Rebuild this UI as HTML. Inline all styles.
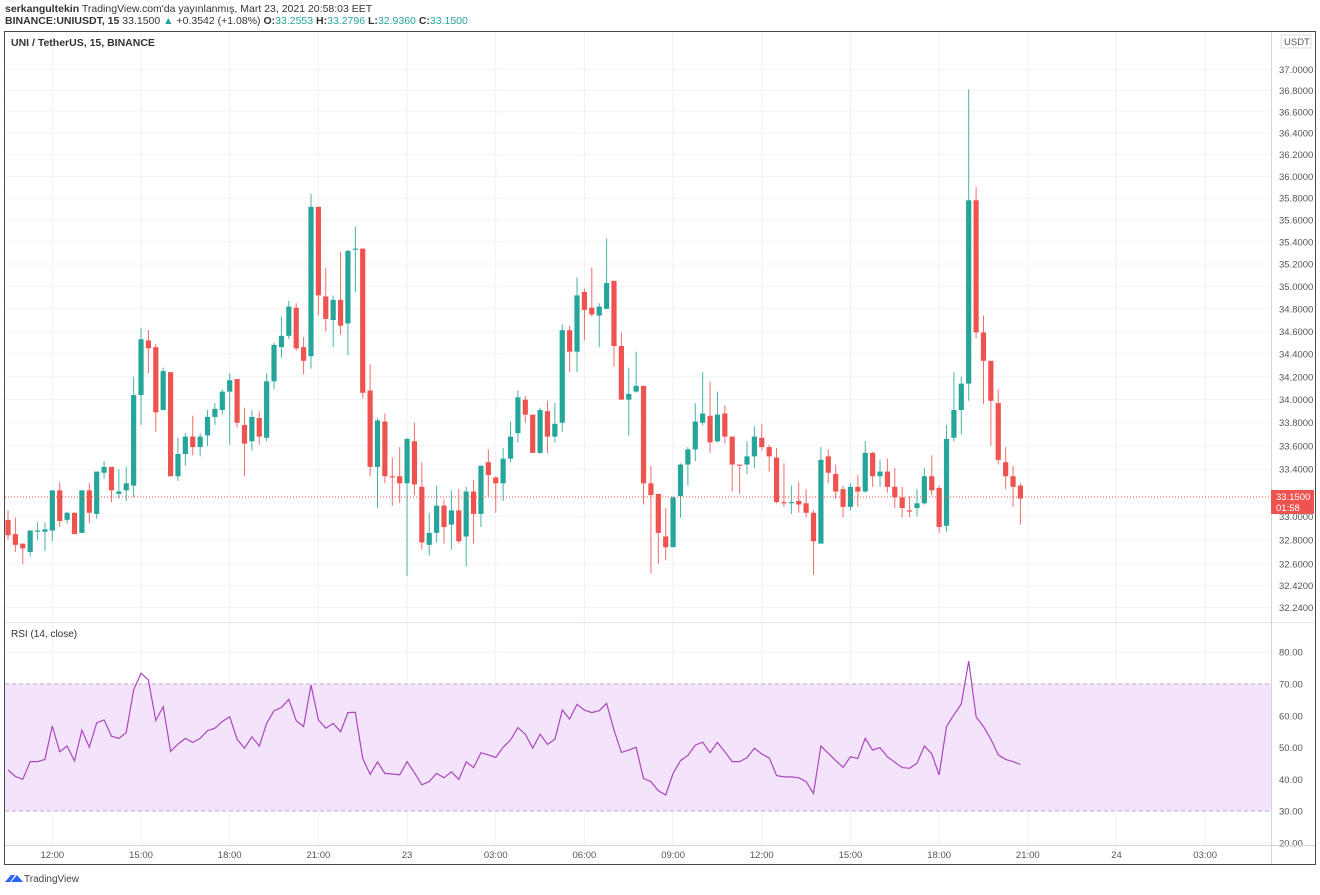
<!DOCTYPE html>
<html><head><meta charset="utf-8">
<style>
html,body{margin:0;padding:0;background:#fff;}
body{width:1320px;height:890px;overflow:hidden;font-family:"Liberation Sans",sans-serif;}
svg text{font-family:"Liberation Sans",sans-serif;}
</style></head>
<body>
<svg id="chart" width="1320" height="890" viewBox="0 0 1320 890" xmlns="http://www.w3.org/2000/svg">
  <text x="5" y="12" font-size="10.5" fill="#333"><tspan font-weight="bold">serkangultekin</tspan> TradingView.com'da yayınlanmış, Mart 23, 2021 20:58:03 EET</text>
  <text x="5" y="24" font-size="10.5" fill="#333"><tspan font-weight="bold">BINANCE:UNIUSDT, 15</tspan> 33.1500 <tspan fill="#26a69a">▲</tspan> +0.3542 (+1.08%) <tspan font-weight="bold">O:</tspan><tspan fill="#26a69a">33.2553</tspan> <tspan font-weight="bold">H:</tspan><tspan fill="#26a69a">33.2796</tspan> <tspan font-weight="bold">L:</tspan><tspan fill="#26a69a">32.9360</tspan> <tspan font-weight="bold">C:</tspan><tspan fill="#26a69a">33.1500</tspan></text>
  <g id="grid"></g>
  <rect x="5" y="684" width="1266" height="127" fill="#f3e4fc"/>
  <line x1="5" x2="1271" y1="684" y2="684" stroke="#c8a2dc" stroke-dasharray="4,3"/>
  <line x1="5" x2="1271" y1="811" y2="811" stroke="#c8a2dc" stroke-dasharray="4,3"/>
  <g id="candles"></g>
  <line x1="5" x2="1271" y1="497" y2="497" stroke="#ef5350" stroke-width="1" stroke-dasharray="1,2"/>
  <polyline id="rsiline" fill="none" stroke="#ab47bc" stroke-width="1.2"/>
  <g id="axes"></g>
  <rect x="4.5" y="31.5" width="1311" height="833" fill="none" stroke="#4a4a4a"/>
  <line x1="5" x2="1315" y1="622.5" y2="622.5" stroke="#e0e3eb"/>
  <line x1="1271.5" x2="1271.5" y1="32" y2="864" stroke="#d6d6d6"/>
  <line x1="5" x2="1315" y1="845.5" y2="845.5" stroke="#d6d6d6"/>
  <text x="11" y="46" font-size="10.5" font-weight="bold" fill="#333">UNI / TetherUS, 15, BINANCE</text>
  <text x="11" y="637" font-size="10" fill="#333">RSI (14, close)</text>
  <rect x="1281" y="35" width="30" height="13" fill="#fff" stroke="#ddd"/>
  <text x="1284" y="45" font-size="9.5" fill="#555">USDT</text>
  <rect x="1271" y="490" width="43" height="24" fill="#ef5350"/>
  <text x="1276" y="500" font-size="9.5" fill="#fff">33.1500</text>
  <text x="1276" y="511" font-size="9.5" fill="#fff">01:58</text>
  <g>
    <path d="M5 882 l6 -7 h4 l-5 7 z M11 882 l6 -7 l6 7 z" fill="#2962ff"/>
    <text x="24" y="882" font-size="10" fill="#444">TradingView</text>
  </g>
</svg>
<script>
const opens=[32.97,32.85,32.77,32.70,32.87,32.87,32.88,33.22,32.97,33.03,32.86,33.22,33.02,33.37,33.42,33.19,33.22,33.26,34.04,34.52,34.46,33.91,34.24,33.34,33.53,33.68,33.59,33.69,33.85,33.91,34.07,34.18,33.78,33.64,33.84,33.67,34.16,34.46,34.56,34.81,34.46,34.38,35.72,34.91,34.70,34.88,34.67,35.33,35.34,34.08,33.42,33.81,33.34,33.34,33.28,33.64,33.25,32.76,32.86,33.09,32.93,33.05,32.83,33.21,33.02,33.46,33.33,33.28,33.49,33.71,34.00,33.87,33.54,33.90,33.68,33.80,34.61,34.42,34.95,34.81,34.74,34.80,35.05,34.47,34.00,34.07,34.12,33.28,33.19,32.83,32.74,33.17,33.44,33.57,33.80,33.86,33.64,33.88,33.68,33.44,33.44,33.51,33.67,33.59,33.50,33.12,33.11,33.13,33.11,33.03,32.77,33.51,33.36,33.23,33.08,33.25,33.21,33.54,33.34,33.38,33.25,33.16,33.05,33.07,33.11,33.34,33.24,32.92,33.67,33.91,34.14,35.78,34.59,34.34,33.97,33.46,33.34,33.26];
const highs=[33.05,32.99,32.77,32.88,32.95,32.95,33.22,33.29,33.04,33.03,33.22,33.28,33.38,33.47,33.42,33.40,33.42,34.20,34.63,34.61,34.49,34.28,34.24,33.67,33.71,33.86,33.71,33.91,33.97,34.09,34.23,34.18,33.93,33.91,33.90,34.23,34.50,34.73,34.87,34.85,34.55,35.84,35.72,35.17,34.92,35.31,35.33,35.54,35.34,34.31,33.84,33.88,33.50,33.59,33.67,33.80,33.46,33.03,33.26,33.14,33.22,33.23,33.25,33.31,33.43,33.57,33.34,33.58,33.81,34.08,34.03,33.87,33.93,33.99,33.97,34.66,34.65,35.08,34.98,35.17,34.85,35.43,35.05,34.59,34.28,34.42,34.12,33.43,33.19,33.07,33.17,33.45,33.59,33.97,34.24,34.16,34.07,33.95,33.68,33.44,33.64,33.77,33.79,33.61,33.58,33.45,33.26,33.29,33.23,33.05,33.59,33.57,33.44,33.26,33.28,33.35,33.64,33.55,33.48,33.49,33.41,33.25,33.17,33.23,33.41,33.52,33.26,33.78,34.24,34.20,36.81,35.90,34.74,34.34,34.09,33.59,33.43,33.28];
const lows=[32.80,32.70,32.60,32.66,32.80,32.71,32.79,32.91,32.94,32.85,32.86,32.94,32.98,33.32,33.12,33.15,33.13,33.16,33.78,34.23,33.72,33.91,33.34,33.30,33.43,33.52,33.51,33.60,33.78,33.87,33.61,33.76,33.34,33.56,33.61,33.64,34.09,34.37,34.53,34.43,34.22,34.27,34.74,34.60,34.46,34.57,34.39,34.95,34.01,33.34,33.07,33.28,33.09,33.11,32.50,33.18,32.72,32.67,32.78,32.77,32.72,32.77,32.58,32.77,32.91,33.17,33.03,33.13,33.46,33.63,33.80,33.54,33.53,33.54,33.63,33.72,34.24,34.24,34.52,34.73,34.46,34.80,34.29,34.00,33.69,34.06,33.10,32.52,32.60,32.63,32.74,32.99,33.26,33.47,33.78,33.54,33.63,33.62,33.21,33.19,33.36,33.41,33.56,33.38,33.11,33.08,33.02,33.03,32.99,32.51,32.77,33.28,33.15,32.99,33.05,33.08,33.20,33.25,33.25,33.20,33.07,32.99,32.99,33.00,33.10,33.18,32.86,32.87,33.64,33.70,33.99,34.54,33.96,33.60,33.44,33.23,33.08,32.93];
const closes=[32.84,32.76,32.73,32.88,32.88,32.89,33.22,32.96,33.03,32.85,33.22,33.03,33.38,33.42,33.22,33.21,33.28,34.04,34.53,34.45,33.89,34.25,33.34,33.53,33.68,33.59,33.68,33.85,33.92,34.07,34.17,33.80,33.62,33.85,33.68,34.16,34.48,34.56,34.82,34.45,34.34,35.72,34.92,34.71,34.88,34.65,35.32,35.34,34.06,33.42,33.82,33.34,33.33,33.28,33.66,33.27,32.78,32.86,33.09,32.91,33.05,32.79,33.21,33.02,33.43,33.35,33.28,33.49,33.68,34.02,33.87,33.54,33.91,33.68,33.79,34.61,34.42,34.92,34.79,34.75,34.82,35.03,34.47,34.00,34.05,34.12,33.28,33.18,32.86,32.74,33.16,33.44,33.57,33.81,33.88,33.63,33.87,33.68,33.44,33.43,33.51,33.68,33.59,33.51,33.12,33.11,33.12,33.10,33.03,32.79,33.48,33.37,33.21,33.08,33.25,33.21,33.54,33.34,33.38,33.25,33.16,33.07,33.04,33.11,33.34,33.22,32.91,33.66,33.91,34.14,35.78,34.59,34.34,33.99,33.48,33.34,33.25,33.15];
const rsiValues=[43.0,40.9,40.0,45.6,45.6,46.3,56.8,48.7,50.5,45.8,55.5,50.1,57.8,58.7,53.6,52.9,54.7,68.1,73.4,71.3,58.5,62.9,48.8,51.1,52.9,51.6,52.9,55.3,56.1,58.2,59.7,52.6,49.8,53.4,50.5,57.6,61.6,62.6,65.2,58.5,56.6,69.7,58.7,56.1,57.6,55.0,61.0,61.1,46.6,41.6,45.5,41.9,41.7,41.4,45.6,42.1,38.3,39.3,41.9,40.5,42.4,40.0,45.5,43.7,48.4,47.7,46.9,50.1,52.4,56.3,54.2,49.8,54.2,51.0,52.6,61.8,59.0,63.6,61.8,61.0,61.6,63.9,55.5,48.5,49.2,50.1,40.3,39.3,36.4,35.1,41.9,45.9,47.5,50.8,51.7,48.4,51.6,48.7,45.6,45.6,46.8,49.8,48.0,46.8,41.2,40.8,40.8,40.5,39.3,35.6,50.5,48.2,45.9,43.8,47.1,46.6,52.9,49.2,50.0,47.1,45.4,43.7,43.5,45.1,50.5,48.0,41.4,56.6,60.3,63.7,77.2,59.7,56.6,52.6,47.7,46.3,45.6,44.7];
const priceTicks=[37.0,36.8,36.6,36.4,36.2,36.0,35.8,35.6,35.4,35.2,35.0,34.8,34.6,34.4,34.2,34.0,33.8,33.6,33.4,33.0,32.8,32.6,32.42,32.24];
const rsiTicks=[80,70,60,50,40,30,20];
const timeLabels=["12:00","15:00","18:00","21:00","23","03:00","06:00","09:00","12:00","15:00","18:00","21:00","24","03:00"];
const timeLabelBars=[6,18,30,42,54,66,78,90,102,114,126,138,150,162];

const NS="http://www.w3.org/2000/svg";
function xOf(i){return 8+i*7.39;}
function yPrice(p){return 69.3+3907*Math.log(37/p);}
function yRsi(v){return 843-(v-20)*3.18;}
function mk(tag,attrs,parent){const e=document.createElementNS(NS,tag);for(const k in attrs)e.setAttribute(k,attrs[k]);parent.appendChild(e);return e;}

const grid=document.getElementById('grid');
const axes=document.getElementById('axes');
priceTicks.forEach(p=>{
  const y=yPrice(p);
  const l=mk('line',{x1:5,x2:1271,y1:y,y2:y,stroke:'#f2f3f5'},grid);
  
  
  const t=mk('text',{x:1279,y:y+3.5,'font-size':9.5,fill:'#555'},axes);
  
  
  t.textContent=p.toFixed(4);
});
rsiTicks.forEach(v=>{
  const y=yRsi(v);
  if(v!==70&&v!==30){
    const l=mk('line',{x1:5,x2:1271,y1:y,y2:y,stroke:'#f0f0f3'},grid);
    
    
  }
  const t=mk('text',{x:1279,y:y+3.5,'font-size':9.5,fill:'#555'},axes);
  
  
  t.textContent=v.toFixed(2);
});
timeLabels.forEach((s,k)=>{
  const x=xOf(timeLabelBars[k]);
  const l=mk('line',{x1:x,x2:x,y1:32,y2:845,stroke:'#f0f1f4'},grid);
  
  
  const t=mk('text',{x:x,y:858,'font-size':9.5,fill:'#555','text-anchor':'middle'},axes);
  
  
  t.textContent=s;
});

const cg=document.getElementById('candles');
for(let i=0;i<opens.length;i++){
  const up=closes[i]>=opens[i];
  const col=up?'#26a69a':'#ef5350';
  const x=xOf(i);
  const g=mk('g',{},cg);
  
  
  mk('line',{x1:x,x2:x,y1:yPrice(highs[i]),y2:yPrice(lows[i]),stroke:col,'stroke-width':1,opacity:0.85},g);
  const yt=yPrice(Math.max(opens[i],closes[i])),yb=yPrice(Math.min(opens[i],closes[i]));
  mk('rect',{x:x-2.6,y:yt,width:5.2,height:Math.max(1,yb-yt),fill:col},g);
}
const pts=rsiValues.map((v,i)=>xOf(i).toFixed(1)+','+yRsi(v).toFixed(1)).join(' ');
document.getElementById('rsiline').setAttribute('points',pts);
</script>
</body></html>
